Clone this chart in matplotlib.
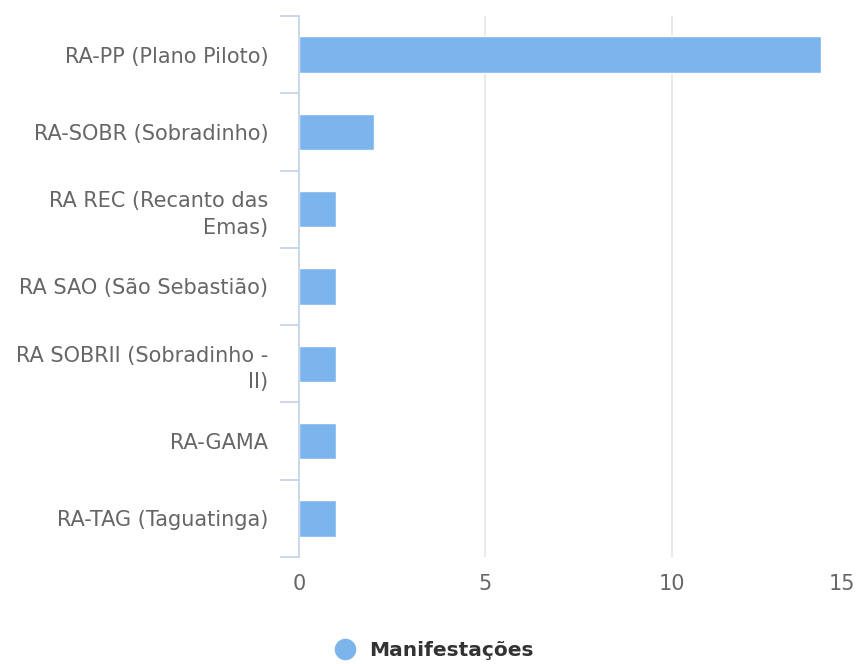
import numpy as np
import matplotlib
matplotlib.use("Agg")
from matplotlib import pyplot as plt
from matplotlib.lines import Line2D
from matplotlib.transforms import ScaledTranslation

# data
categories = [
    "RA-PP (Plano Piloto)",
    "RA-SOBR (Sobradinho)",
    "RA REC (Recanto das\nEmas)",
    "RA SAO (São Sebastião)",
    "RA SOBRII (Sobradinho -\nII)",
    "RA-GAMA",
    "RA-TAG (Taguatinga)",
]
values = [14, 2, 1, 1, 1, 1, 1]
xticks = [0, 5, 10, 15]
series_name = "Manifestações"

bar_color = "#7cb5ec"
axis_color = "#ccd6eb"
grid_color = "#e6e6e6"
label_color = "#666666"

fig = plt.figure(figsize=(8.56, 6.64), dpi=100)
ax = fig.add_axes([299 / 856, 1 - 557 / 664, 559.5 / 856, (557 - 16) / 664])

y = np.arange(len(categories))
ax.barh(y, values, height=0.47, color=bar_color, edgecolor="white", linewidth=1, zorder=3)

ax.set_ylim(len(categories) - 0.5, -0.5)
ax.set_xlim(0, 15)

# y axis: labels at category centers, tick marks at boundaries
ax.set_yticks(y)
ax.set_yticklabels(categories, fontsize=15, color=label_color, linespacing=1.4)
ax.set_yticks(np.arange(len(categories) + 1) - 0.5, minor=True)
ax.tick_params(axis="y", which="major", length=0, pad=22)
ax.tick_params(axis="y", which="minor", length=13.7, width=1.4, color=axis_color)

# x axis
ax.set_xticks(xticks)
ax.set_xticklabels([str(t) for t in xticks], fontsize=15, color=label_color)
ax.tick_params(axis="x", length=0, pad=12)
last = ax.get_xticklabels()[-1]
last.set_horizontalalignment("right")
last.set_transform(last.get_transform() + ScaledTranslation(-3 / 100, 0, fig.dpi_scale_trans))
ax.grid(axis="x", color=grid_color, linewidth=1.2, zorder=0)

for s in ["top", "right", "bottom"]:
    ax.spines[s].set_visible(False)
ax.spines["left"].set_color(axis_color)
ax.spines["left"].set_linewidth(1.4)
ax.spines["left"].set_zorder(4)

handle = Line2D([], [], marker="o", linestyle="none", markersize=14.5,
                markerfacecolor=bar_color, markeredgecolor=bar_color)
fig.legend([handle], [series_name], loc="center", bbox_to_anchor=(0.506, 0.021),
           frameon=False, handletextpad=0.6, handlelength=1.2,
           prop={"size": 14.5, "weight": "bold"}, labelcolor="#333333")

fig.savefig("out.png", dpi=100)
